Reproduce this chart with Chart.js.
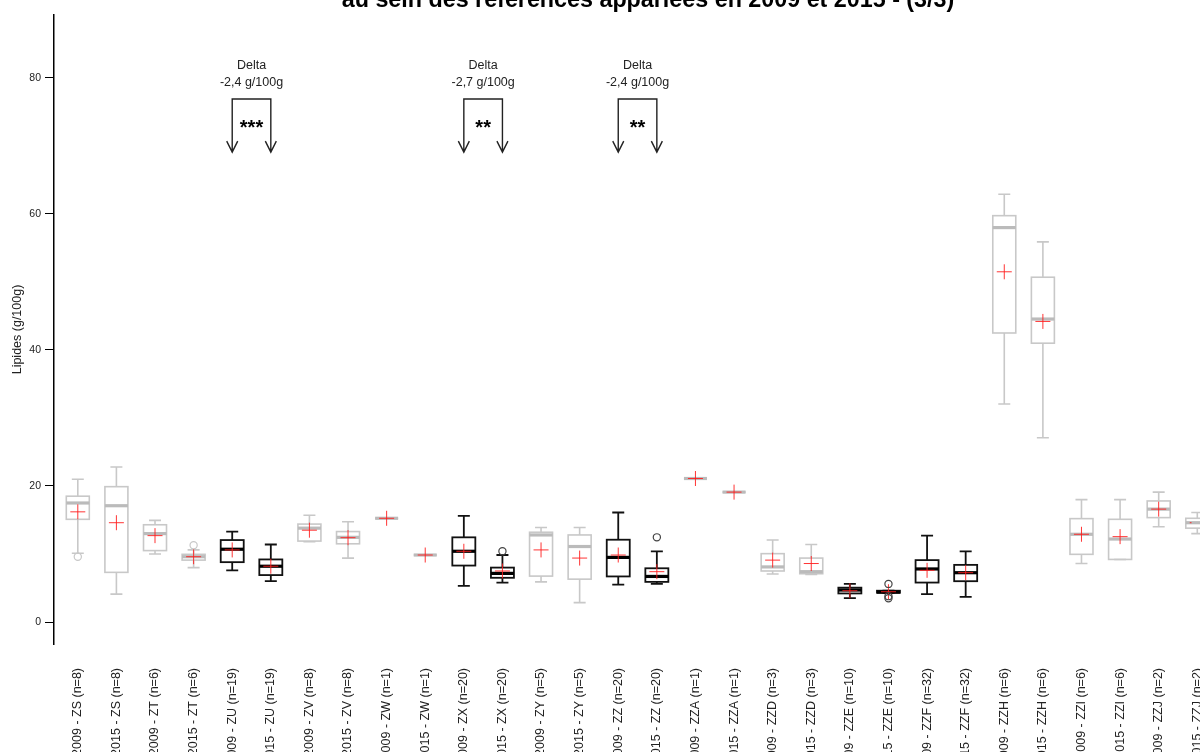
<!DOCTYPE html>
<html>
<head>
<meta charset="utf-8">
<script src="https://cdn.jsdelivr.net/npm/chart.js@4.4.0/dist/chart.umd.min.js"></script>
<style>
  html, body { margin: 0; padding: 0; background: #fff; overflow: hidden; }
  #wrap { width: 1200px; height: 752px; }
</style>
</head>
<body>
<div id="wrap"><canvas id="chart"></canvas></div>
<script>
const title = 'au sein des références appariées en 2009 et 2015 - (3/3)';

const labels = [
  '2009 - ZS (n=8)', '2015 - ZS (n=8)', '2009 - ZT (n=6)', '2015 - ZT (n=6)',
  '2009 - ZU (n=19)', '2015 - ZU (n=19)', '2009 - ZV (n=8)', '2015 - ZV (n=8)',
  '2009 - ZW (n=1)', '2015 - ZW (n=1)', '2009 - ZX (n=20)', '2015 - ZX (n=20)',
  '2009 - ZY (n=5)', '2015 - ZY (n=5)', '2009 - ZZ (n=20)', '2015 - ZZ (n=20)',
  '2009 - ZZA (n=1)', '2015 - ZZA (n=1)', '2009 - ZZD (n=3)', '2015 - ZZD (n=3)',
  '2009 - ZZE (n=10)', '2015 - ZZE (n=10)', '2009 - ZZF (n=32)', '2015 - ZZF (n=32)',
  '2009 - ZZH (n=6)', '2015 - ZZH (n=6)', '2009 - ZZI (n=6)', '2015 - ZZI (n=6)',
  '2009 - ZZJ (n=2)', '2015 - ZZJ (n=2)'
];

// box plot statistics, g/100g
const whiskerHigh = [21.0, 22.8, 14.95, 10.6, 13.3, 11.4, 15.7, 14.75, 15.25, 9.85, 15.6, 9.85, 13.9, 13.9, 16.1, 10.4, 21.1, 19.1, 12.05, 11.4, 5.6, 4.6, 12.7, 10.4, 62.9, 55.9, 18.0, 18.0, 19.1, 16.1];
const q3 = [18.5, 19.9, 14.3, 9.95, 12.05, 9.2, 14.4, 13.3, 15.25, 9.85, 12.45, 8.0, 13.2, 12.8, 12.1, 7.9, 21.1, 19.1, 10.05, 9.4, 5.05, 4.6, 9.1, 8.4, 59.75, 50.7, 15.2, 15.1, 17.8, 15.25];
const median = [17.5, 17.1, 13.0, 9.6, 10.7, 8.2, 13.8, 12.45, 15.25, 9.85, 10.4, 7.15, 12.8, 11.1, 9.5, 6.7, 21.1, 19.1, 8.1, 7.4, 4.7, 4.4, 7.8, 7.25, 58.0, 44.55, 12.9, 12.2, 16.6, 14.6];
const q1 = [15.1, 7.3, 10.5, 9.1, 8.8, 6.9, 11.9, 11.5, 15.25, 9.85, 8.3, 6.5, 6.75, 6.3, 6.7, 5.9, 21.1, 19.1, 7.5, 7.1, 4.2, 4.3, 5.8, 6.0, 42.5, 41.0, 9.95, 9.2, 15.35, 13.8];
const whiskerLow = [10.1, 4.1, 10.0, 8.0, 7.6, 6.0, 11.8, 9.4, 15.25, 9.85, 5.3, 5.8, 5.9, 2.85, 5.5, 5.6, 21.1, 19.1, 7.05, 7.0, 3.5, 4.3, 4.1, 3.7, 32.05, 27.1, 8.6, 9.2, 14.0, 13.0];
const means = [16.2, 14.6, 12.7, 9.6, 10.6, 8.2, 13.5, 12.4, 15.25, 9.85, 10.4, 7.5, 10.6, 9.4, 9.85, 7.4, 21.1, 19.1, 9.1, 8.6, 4.6, 4.45, 7.6, 7.25, 51.5, 44.2, 12.9, 12.55, 16.6, 14.6];
// outliers: [category number, value]
const outliers = [[1, 9.6], [4, 11.3], [12, 10.4], [16, 12.45], [22, 5.6], [22, 3.8], [22, 3.5]];
// pairs with a significant difference are drawn in black
const significant = [5, 6, 11, 12, 15, 16, 21, 22, 23, 24];

// delta annotations over pairs
const deltaPairs = [5, 11, 15];
const deltaTexts = ['-2,4 g/100g', '-2,7 g/100g', '-2,4 g/100g'];
const deltaStars = ['***', '**', '**'];

const yTicks = [0, 20, 40, 60, 80];

const GREY = '#c8c8c8';
const DARK = '#111111';
const FONT = '"Liberation Sans", Arial, sans-serif';

const isDark = n => significant.includes(n);

const boxPlugin = {
  id: 'boxes',
  beforeDatasetsDraw(chart) {
    const { ctx, scales: { x, y } } = chart;
    const half = 11.5, cap = 6;
    ctx.save();
    labels.forEach((_, i) => {
      const cx = x.getPixelForValue(i + 1);
      const dark = isDark(i + 1);
      const col = dark ? DARK : GREY;
      const yHi = y.getPixelForValue(whiskerHigh[i]);
      const yQ3 = y.getPixelForValue(q3[i]);
      const yMed = y.getPixelForValue(median[i]);
      const yQ1 = y.getPixelForValue(q1[i]);
      const yLo = y.getPixelForValue(whiskerLow[i]);
      ctx.strokeStyle = col;
      ctx.lineWidth = dark ? 1.8 : 1.6;
      ctx.beginPath();
      ctx.moveTo(cx, yQ3); ctx.lineTo(cx, yHi);
      ctx.moveTo(cx - cap, yHi); ctx.lineTo(cx + cap, yHi);
      ctx.moveTo(cx, yQ1); ctx.lineTo(cx, yLo);
      ctx.moveTo(cx - cap, yLo); ctx.lineTo(cx + cap, yLo);
      ctx.stroke();
      ctx.strokeRect(cx - half, yQ3, 2 * half, yQ1 - yQ3);
      ctx.strokeStyle = dark ? '#000' : '#bbbbbb';
      ctx.lineWidth = 3.2;
      ctx.beginPath();
      ctx.moveTo(cx - half, yMed); ctx.lineTo(cx + half, yMed);
      ctx.stroke();
    });
    ctx.restore();
  },
  afterDraw(chart) {
    const { ctx, scales: { x, y } } = chart;
    ctx.save();
    // title, partially cut at the top edge
    ctx.fillStyle = '#000';
    ctx.font = 'bold 23.3px ' + FONT;
    ctx.textAlign = 'center';
    ctx.textBaseline = 'alphabetic';
    ctx.fillText(title, 648, 7);

    deltaPairs.forEach((n, k) => {
      const xa = x.getPixelForValue(n);
      const xb = x.getPixelForValue(n + 1);
      const mid = (xa + xb) / 2;
      const top = y.getPixelForValue(76.9);
      const tip = y.getPixelForValue(69.1);
      ctx.fillStyle = '#222';
      ctx.textAlign = 'center';
      ctx.textBaseline = 'middle';
      ctx.font = '12.5px ' + FONT;
      ctx.fillText('Delta', mid, y.getPixelForValue(81.9));
      ctx.fillText(deltaTexts[k], mid, y.getPixelForValue(79.3));
      ctx.font = 'bold 20px ' + FONT;
      ctx.fillStyle = '#000';
      ctx.fillText(deltaStars[k], mid, y.getPixelForValue(72.6));
      ctx.strokeStyle = '#222';
      ctx.lineWidth = 1.4;
      ctx.beginPath();
      ctx.moveTo(xa, tip); ctx.lineTo(xa, top); ctx.lineTo(xb, top); ctx.lineTo(xb, tip);
      [xa, xb].forEach(px => {
        ctx.moveTo(px - 5.5, tip - 11); ctx.lineTo(px, tip); ctx.lineTo(px + 5.5, tip - 11);
      });
      ctx.stroke();
    });
    ctx.restore();
  }
};

new Chart(document.getElementById('chart'), {
  type: 'scatter',
  data: {
    datasets: [
      {
        label: 'outliers',
        data: outliers.map(o => ({ x: o[0], y: o[1] })),
        pointStyle: 'circle',
        pointRadius: 3.6,
        borderWidth: 1.2,
        backgroundColor: 'rgba(255,255,255,0)',
        borderColor: c => (c.raw && isDark(c.raw.x)) ? '#444' : GREY
      },
      {
        label: 'moyenne',
        data: means.map((m, i) => ({ x: i + 1, y: m })),
        pointStyle: 'cross',
        pointRadius: 7.5,
        borderWidth: 1,
        borderColor: 'rgba(255,30,30,0.9)'
      }
    ]
  },
  options: {
    responsive: true,
    maintainAspectRatio: false,
    animation: false,
    events: [],
    layout: { padding: { top: 15, right: 0, bottom: 0, left: 0 } },
    plugins: { legend: { display: false }, tooltip: { enabled: false } },
    scales: {
      x: {
        type: 'linear',
        min: 0.3834,
        max: 29.85,
        grid: { display: false, drawTicks: false },
        border: { display: false },
        afterBuildTicks: s => { s.ticks = labels.map((_, i) => ({ value: i + 1 })); },
        afterFit: s => { s.height = 108; s.paddingLeft = 0; s.paddingRight = 0; },
        ticks: {
          autoSkip: false,
          maxRotation: 90,
          minRotation: 90,
          padding: 24,
          color: '#222',
          font: { family: FONT, size: 12.5 },
          callback: (v, i) => labels[i]
        }
      },
      y: {
        min: -3.235,
        max: 89.26,
        afterBuildTicks: s => { s.ticks = yTicks.map(v => ({ value: v })); },
        afterFit: s => { s.width = 54; s.paddingTop = 0; s.paddingBottom = 0; },
        grid: { display: true, drawOnChartArea: false, drawTicks: true, tickLength: 9, color: '#000', lineWidth: 1 },
        border: { display: true, color: '#000', width: 1.5 },
        ticks: { padding: 4, color: '#222', font: { family: FONT, size: 10.5 } },
        title: {
          display: true,
          text: 'Lipides (g/100g)',
          color: '#222',
          font: { family: FONT, size: 12.5 },
          padding: { top: 10, bottom: 0 }
        }
      }
    }
  },
  plugins: [boxPlugin]
});
</script>
</body>
</html>
